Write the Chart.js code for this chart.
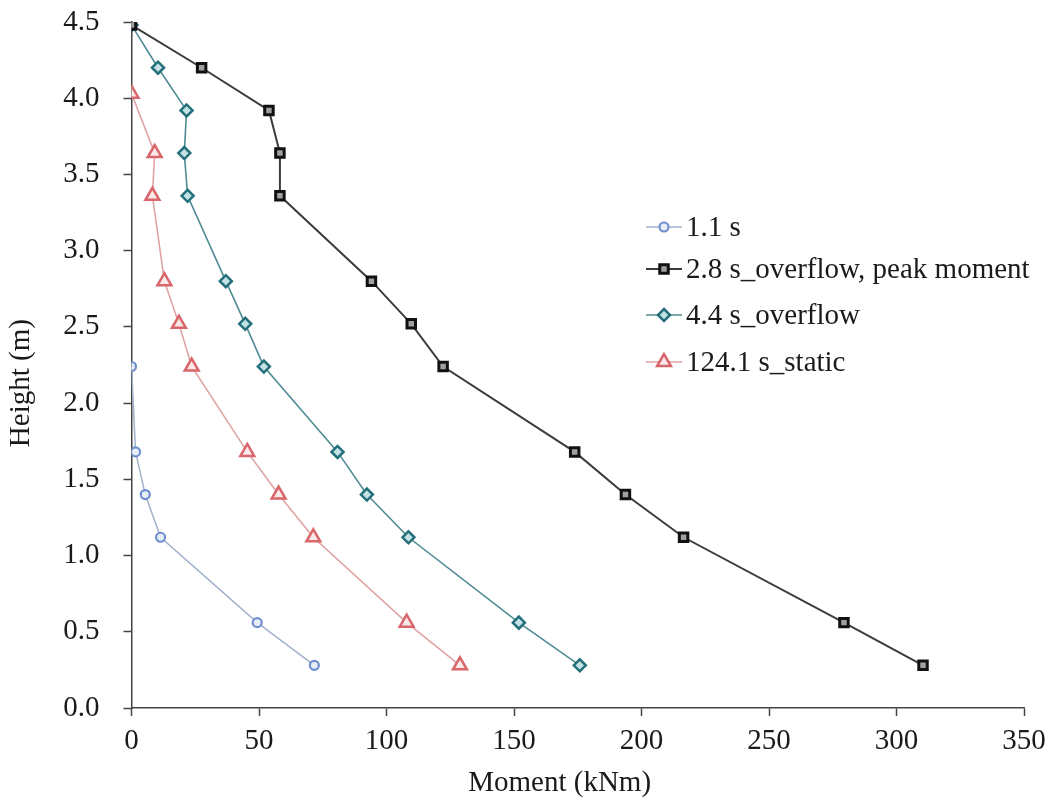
<!DOCTYPE html>
<html>
<head>
<meta charset="utf-8">
<script src="https://cdn.jsdelivr.net/npm/chart.js@4/dist/chart.umd.min.js"></script>
<style>
  html, body { margin: 0; padding: 0; background: #ffffff; }
  #wrap { width: 1053px; height: 809px; position: relative; }
</style>
</head>
<body>
<div id="wrap"><canvas id="c" width="1053" height="809"></canvas></div>
<script>
// ---- Data ----
const seriesLabels = ["1.1 s", "2.8 s_overflow, peak moment", "4.4 s_overflow", "124.1 s_static"];

const heights11 = [2.24, 1.68, 1.40, 1.12, 0.56, 0.28];
const moment11  = [0, 1.6, 5.4, 11.4, 49.3, 71.7];

const heights28 = [4.48, 4.20, 3.92, 3.64, 3.36, 2.80, 2.52, 2.24, 1.68, 1.40, 1.12, 0.56, 0.28];
const moment28  = [0, 27.5, 53.9, 58.2, 58.2, 94.1, 109.7, 122.2, 173.8, 193.7, 216.5, 279.4, 310.4];

const heights44 = [4.48, 4.20, 3.92, 3.64, 3.36, 2.80, 2.52, 2.24, 1.68, 1.40, 1.12, 0.56, 0.28];
const moment44  = [0, 10.4, 21.6, 20.7, 22.0, 37.0, 44.6, 51.9, 80.8, 92.3, 108.6, 151.9, 175.8];

const heights124 = [4.03, 3.64, 3.36, 2.80, 2.52, 2.24, 1.68, 1.40, 1.12, 0.56, 0.28];
const moment124  = [0, 9.1, 8.2, 12.9, 18.6, 23.6, 45.4, 57.7, 71.3, 107.9, 128.8];

const xTicks = [0, 50, 100, 150, 200, 250, 300, 350];
const yTicks = [0, 0.5, 1.0, 1.5, 2.0, 2.5, 3.0, 3.5, 4.0, 4.5];

const xTitle = 'Moment (kNm)';
const yTitle = 'Height (m)';

function pts(xs, ys) { return xs.map((x, i) => ({ x: x, y: ys[i] })); }

const FONT = "'Liberation Serif', 'Times New Roman', serif";
const NB = '\u00a0\u00a0\u00a0\u00a0\u00a0';

const datasets = [
  {
    label: seriesLabels[0], data: pts(moment11, heights11),
    borderColor: '#a3b3cc', borderWidth: 1.5,
    pointStyle: 'circle', pointRadius: 4.5, pointBorderWidth: 2.2,
    pointBorderColor: '#6f8fcf', pointBackgroundColor: '#e8eef8'
  },
  {
    label: seriesLabels[1], data: pts(moment28, heights28),
    borderColor: '#3c3c3c', borderWidth: 2,
    pointStyle: 'rect', pointRadius: 6, pointBorderWidth: 3,
    pointBorderColor: '#111111', pointBackgroundColor: '#a0a0a0'
  },
  {
    label: seriesLabels[2], data: pts(moment44, heights44),
    borderColor: '#4f8c93', borderWidth: 1.6,
    pointStyle: 'rectRot', pointRadius: 6, pointBorderWidth: 2.5,
    pointBorderColor: '#236f7a', pointBackgroundColor: '#c4e2e5'
  },
  {
    label: seriesLabels[3], data: pts(moment124, heights124),
    borderColor: '#dfa3a3', borderWidth: 1.6,
    pointStyle: 'triangle', pointRadius: 8, pointBorderWidth: 2.5,
    pointBorderColor: '#d8666a', pointBackgroundColor: '#fbe8e8'
  }
];
datasets.forEach(d => { d.showLine = true; d.fill = false; d.tension = 0; d.pointHoverRadius = d.pointRadius; });

function drawMarker(ctx, ds, x, y) {
  const r = ds.pointRadius;
  ctx.save();
  ctx.lineWidth = ds.pointBorderWidth;
  ctx.strokeStyle = ds.pointBorderColor;
  ctx.fillStyle = ds.pointBackgroundColor;
  ctx.beginPath();
  if (ds.pointStyle === 'circle') {
    ctx.arc(x, y, r, 0, Math.PI * 2);
  } else if (ds.pointStyle === 'rect') {
    const s = r * Math.SQRT1_2;
    ctx.rect(x - s, y - s, 2 * s, 2 * s);
  } else if (ds.pointStyle === 'rectRot') {
    ctx.moveTo(x, y - r); ctx.lineTo(x + r, y); ctx.lineTo(x, y + r); ctx.lineTo(x - r, y); ctx.closePath();
  } else if (ds.pointStyle === 'triangle') {
    ctx.moveTo(x, y - r);
    ctx.lineTo(x + r * Math.sin(2 * Math.PI / 3), y - r * Math.cos(2 * Math.PI / 3));
    ctx.lineTo(x - r * Math.sin(2 * Math.PI / 3), y - r * Math.cos(2 * Math.PI / 3));
    ctx.closePath();
  }
  ctx.fill();
  ctx.stroke();
  ctx.restore();
}

const legendPlugin = {
  id: 'lineLegend',
  afterDraw(chart) {
    const ctx = chart.ctx;
    const x0 = 646, lineW = 36, gap = 4;
    const ys = [227, 269, 315, 362];
    ctx.save();
    chart.data.datasets.forEach((ds, i) => {
      const y = ys[i];
      ctx.strokeStyle = ds.borderColor;
      ctx.lineWidth = ds.borderWidth;
      ctx.beginPath();
      ctx.moveTo(x0, y); ctx.lineTo(x0 + lineW, y);
      ctx.stroke();
      drawMarker(ctx, ds, x0 + lineW / 2, y);
      ctx.fillStyle = '#1a1a1a';
      ctx.font = '29px ' + FONT;
      ctx.textAlign = 'left';
      ctx.textBaseline = 'middle';
      ctx.fillText(ds.label, x0 + lineW + gap, y + 1);
    });
    ctx.restore();
  }
};

new Chart(document.getElementById('c'), {
  type: 'scatter',
  data: { datasets: datasets },
  plugins: [legendPlugin],
  options: {
    responsive: false,
    animation: false,
    events: [],
    layout: { padding: { left: 0, right: 29, top: 22, bottom: 0 } },
    plugins: { legend: { display: false }, tooltip: { enabled: false } },
    scales: {
      x: {
        type: 'linear', min: 0, max: 350,
        afterBuildTicks: (s) => { s.ticks = xTicks.map(v => ({ value: v })); },
        afterFit: (s) => { s.height = 101; s.paddingLeft = 0; s.paddingRight = 0; },
        grid: { display: true, drawOnChartArea: false, drawTicks: true, tickLength: 8, tickColor: '#444', tickWidth: 1.5 },
        border: { display: true, color: '#444', width: 1.5 },
        ticks: { color: '#1a1a1a', font: { family: FONT, size: 29 }, padding: 8, maxRotation: 0,
                 callback: (v) => String(v) },
        title: { display: true, text: xTitle + NB, color: '#1a1a1a', font: { family: FONT, size: 29 },
                 padding: { top: 0, bottom: 8 } }
      },
      y: {
        type: 'linear', min: 0, max: 4.5,
        afterBuildTicks: (s) => { s.ticks = yTicks.map(v => ({ value: v })); },
        afterFit: (s) => { s.width = 131.5; s.paddingTop = 0; s.paddingBottom = 0; },
        grid: { display: true, drawOnChartArea: false, drawTicks: true, tickLength: 8, tickColor: '#444', tickWidth: 1.5 },
        border: { display: true, color: '#444', width: 1.5 },
        ticks: { color: '#1a1a1a', font: { family: FONT, size: 29 }, padding: 24,
                 callback: (v) => Number(v).toFixed(1) },
        title: { display: true, text: yTitle + NB, color: '#1a1a1a', font: { family: FONT, size: 29 },
                 padding: { top: 4, bottom: 0 } }
      }
    }
  }
});
</script>
</body>
</html>
